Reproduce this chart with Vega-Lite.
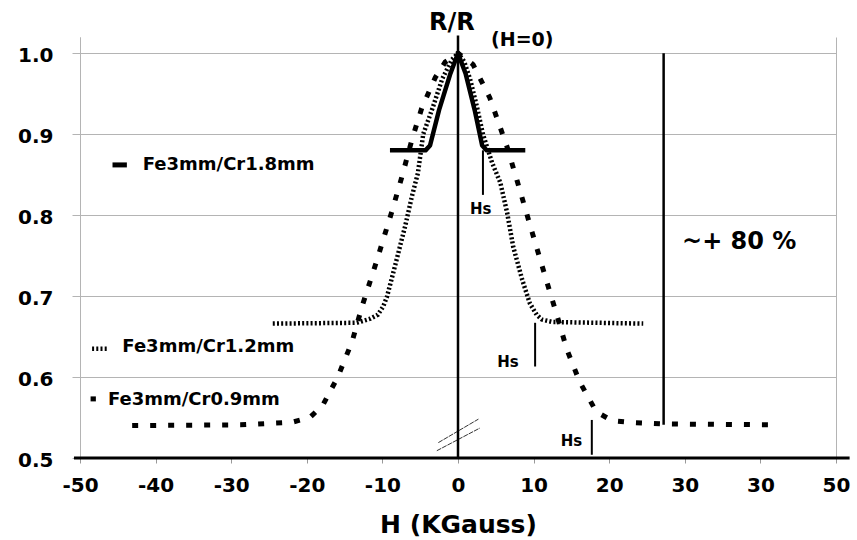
{
  "$schema": "https://vega.github.io/schema/vega-lite/v6.json",
  "autosize": "none",
  "width": 756,
  "height": 421,
  "padding": {"left": 80, "top": 37, "right": 21, "bottom": 82},
  "background": "white",
  "config": {"view": {"stroke": null}, "font": "DejaVu Sans"},
  "datasets": {
    "c18": [
      {"x": -9.0, "y": 0.88}, {"x": -4.3, "y": 0.88}, {"x": -3.7, "y": 0.886}, {"x": -2.5, "y": 0.93},
      {"x": -1.0, "y": 0.975}, {"x": 0, "y": 1.0}, {"x": 1.0, "y": 0.975}, {"x": 2.2, "y": 0.93},
      {"x": 3.2, "y": 0.886}, {"x": 3.8, "y": 0.88}, {"x": 8.9, "y": 0.88}
    ],
    "c12": [
      {"x": -24.5, "y": 0.666}, {"x": -13.4, "y": 0.667}, {"x": -11.6, "y": 0.672}, {"x": -10.6, "y": 0.677},
      {"x": -9.9, "y": 0.687}, {"x": -9.4, "y": 0.699}, {"x": -8.7, "y": 0.724}, {"x": -7.9, "y": 0.753},
      {"x": -7.0, "y": 0.786}, {"x": -6.1, "y": 0.823}, {"x": -5.3, "y": 0.852}, {"x": -4.6, "y": 0.9},
      {"x": -3.3, "y": 0.934}, {"x": -2.1, "y": 0.968}, {"x": -0.8, "y": 0.992}, {"x": 0, "y": 1.0},
      {"x": 0.8, "y": 0.99}, {"x": 1.6, "y": 0.968}, {"x": 2.5, "y": 0.934}, {"x": 3.3, "y": 0.9},
      {"x": 4.5, "y": 0.865}, {"x": 5.6, "y": 0.84}, {"x": 6.5, "y": 0.803}, {"x": 7.3, "y": 0.761},
      {"x": 8.5, "y": 0.72}, {"x": 9.5, "y": 0.691}, {"x": 10.4, "y": 0.677}, {"x": 11.1, "y": 0.671},
      {"x": 12.5, "y": 0.668}, {"x": 24.5, "y": 0.666}
    ],
    "c09": [
      {"x": -43.1, "y": 0.54}, {"x": -28.8, "y": 0.541}, {"x": -22.0, "y": 0.544}, {"x": -19.6, "y": 0.55},
      {"x": -17.9, "y": 0.565}, {"x": -15.9, "y": 0.6}, {"x": -14.0, "y": 0.644}, {"x": -12.7, "y": 0.687},
      {"x": -10.7, "y": 0.745}, {"x": -8.7, "y": 0.806}, {"x": -7.4, "y": 0.848}, {"x": -6.1, "y": 0.893},
      {"x": -4.8, "y": 0.932}, {"x": -3.0, "y": 0.97}, {"x": -1.7, "y": 0.989}, {"x": 0, "y": 1.0},
      {"x": 2.0, "y": 0.986}, {"x": 4.2, "y": 0.945}, {"x": 6.5, "y": 0.884}, {"x": 7.8, "y": 0.843},
      {"x": 9.8, "y": 0.779}, {"x": 11.8, "y": 0.716}, {"x": 13.1, "y": 0.676}, {"x": 14.4, "y": 0.634},
      {"x": 16.1, "y": 0.594}, {"x": 18.3, "y": 0.557}, {"x": 20.4, "y": 0.546}, {"x": 22.8, "y": 0.544},
      {"x": 27.4, "y": 0.542}, {"x": 42.4, "y": 0.541}
    ],
    "leg18": [{"x": -45.7, "y": 0.862}, {"x": -43.8, "y": 0.862}],
    "leg12": [{"x": -48.4, "y": 0.635}, {"x": -46.3, "y": 0.635}],
    "leg09": [{"x": -48.6, "y": 0.573}, {"x": -47.9, "y": 0.573}],
    "breaks": [
      {"k": "a", "x": -2.6, "y": 0.519}, {"k": "a", "x": 2.7, "y": 0.548},
      {"k": "b", "x": -2.8, "y": 0.509}, {"k": "b", "x": 2.9, "y": 0.537}
    ],
    "thick": [
      {"x": 0, "y": 0.5, "y2": 1.022},
      {"x": 27.2, "y": 0.541, "y2": 1.0}
    ],
    "hs": [
      {"x": 3.3, "y": 0.825, "y2": 0.88},
      {"x": 10.2, "y": 0.613, "y2": 0.667},
      {"x": 17.7, "y": 0.504, "y2": 0.547}
    ],
    "hslabels": [
      {"t": "Hs", "x": 3.0, "y": 0.807},
      {"t": "Hs", "x": 6.6, "y": 0.619},
      {"t": "Hs", "x": 15.0, "y": 0.521}
    ],
    "legtext": [
      {"t": "Fe3mm/Cr1.8mm", "x": -41.7, "y": 0.862},
      {"t": "Fe3mm/Cr1.2mm", "x": -44.4, "y": 0.637},
      {"t": "Fe3mm/Cr0.9mm", "x": -46.3, "y": 0.572}
    ],
    "baseline": [{"x": -50.8, "x2": 51.8, "y": 0.5}]
  },
  "layer": [
    {
      "data": {"name": "baseline"},
      "mark": {"type": "rule", "color": "black", "strokeWidth": 3, "clip": false},
      "encoding": {
        "x": {"field": "x", "type": "quantitative", "scale": {"domain": [-50, 50], "nice": false, "zero": false},
          "axis": {
            "values": [-50, -40, -30, -20, -10, 0, 10, 20, 30, 40, 50],
            "labelExpr": "datum.value == 40 ? '30' : '' + datum.value",
            "domain": false,
            "grid": true,
            "gridColor": "#b4b4b4",
            "gridOpacity": {"condition": {"test": "abs(datum.value) == 50", "value": 1}, "value": 0},
            "tickColor": "#999999",
            "tickSize": 5,
            "labelFont": "DejaVu Sans",
            "labelFontWeight": "bold",
            "labelFontSize": 20,
            "labelColor": "black",
            "labelPadding": 12,
            "labelFlush": false,
            "title": "H (KGauss)",
            "titleFont": "DejaVu Sans",
            "titleFontWeight": "bold",
            "titleFontSize": 25,
            "titleColor": "black",
            "titlePadding": 17
          }},
        "x2": {"field": "x2"},
        "y": {"field": "y", "type": "quantitative", "scale": {"domain": [0.5, 1.02], "nice": false, "zero": false},
          "axis": {
            "values": [0.5, 0.6, 0.7, 0.8, 0.9, 1.0],
            "format": ".1f",
            "domainColor": "#b4b4b4",
            "gridColor": "#b4b4b4",
            "tickColor": "#b4b4b4",
            "tickSize": 8,
            "labelFont": "DejaVu Sans",
            "labelFontWeight": "bold",
            "labelFontSize": 20,
            "labelColor": "black",
            "labelPadding": 19,
            "labelBaseline": "middle",
            "labelOffset": 2,
            "title": null
          }}
      }
    },
    {
      "data": {"name": "breaks"},
      "mark": {"type": "line", "color": "#333333", "strokeWidth": 1, "strokeDash": [5, 1]},
      "encoding": {
        "x": {"field": "x", "type": "quantitative"},
        "y": {"field": "y", "type": "quantitative"},
        "detail": {"field": "k"}
      }
    },
    {
      "data": {"name": "c09"},
      "mark": {"type": "line", "color": "black", "strokeWidth": 5, "strokeDash": [6, 12]},
      "encoding": {"x": {"field": "x", "type": "quantitative"}, "y": {"field": "y", "type": "quantitative"}}
    },
    {
      "data": {"name": "c12"},
      "mark": {"type": "line", "color": "black", "strokeWidth": 4.5, "strokeDash": [2, 2.2]},
      "encoding": {"x": {"field": "x", "type": "quantitative"}, "y": {"field": "y", "type": "quantitative"}}
    },
    {
      "data": {"name": "c18"},
      "mark": {"type": "line", "color": "black", "strokeWidth": 4.5, "strokeJoin": "round"},
      "encoding": {"x": {"field": "x", "type": "quantitative"}, "y": {"field": "y", "type": "quantitative"}}
    },
    {
      "data": {"name": "leg18"},
      "mark": {"type": "line", "color": "black", "strokeWidth": 5},
      "encoding": {"x": {"field": "x", "type": "quantitative"}, "y": {"field": "y", "type": "quantitative"}}
    },
    {
      "data": {"name": "leg12"},
      "mark": {"type": "line", "color": "black", "strokeWidth": 4.5, "strokeDash": [2, 2.2]},
      "encoding": {"x": {"field": "x", "type": "quantitative"}, "y": {"field": "y", "type": "quantitative"}}
    },
    {
      "data": {"name": "leg09"},
      "mark": {"type": "line", "color": "black", "strokeWidth": 5},
      "encoding": {"x": {"field": "x", "type": "quantitative"}, "y": {"field": "y", "type": "quantitative"}}
    },
    {
      "data": {"name": "thick"},
      "mark": {"type": "rule", "color": "black", "strokeWidth": 2.5, "clip": false},
      "encoding": {"x": {"field": "x", "type": "quantitative"}, "y": {"field": "y", "type": "quantitative"}, "y2": {"field": "y2"}}
    },
    {
      "data": {"name": "hs"},
      "mark": {"type": "rule", "color": "black", "strokeWidth": 2},
      "encoding": {"x": {"field": "x", "type": "quantitative"}, "y": {"field": "y", "type": "quantitative"}, "y2": {"field": "y2"}}
    },
    {
      "data": {"name": "hslabels"},
      "mark": {"type": "text", "font": "DejaVu Sans", "fontWeight": "bold", "fontSize": 15, "align": "center", "baseline": "middle", "color": "black"},
      "encoding": {"x": {"field": "x", "type": "quantitative"}, "y": {"field": "y", "type": "quantitative"}, "text": {"field": "t"}}
    },
    {
      "data": {"name": "legtext"},
      "mark": {"type": "text", "font": "DejaVu Sans", "fontWeight": "bold", "fontSize": 18, "align": "left", "baseline": "middle", "color": "black"},
      "encoding": {"x": {"field": "x", "type": "quantitative"}, "y": {"field": "y", "type": "quantitative"}, "text": {"field": "t"}}
    },
    {
      "data": {"values": [{"t": "~+ 80 %", "x": 37.2, "y": 0.767}]},
      "mark": {"type": "text", "font": "DejaVu Sans", "fontWeight": "bold", "fontSize": 24, "align": "center", "baseline": "middle", "color": "black"},
      "encoding": {"x": {"field": "x", "type": "quantitative"}, "y": {"field": "y", "type": "quantitative"}, "text": {"field": "t"}}
    },
    {
      "data": {"values": [{"t": "R/R", "x": -0.8, "y": 1.037}]},
      "mark": {"type": "text", "font": "DejaVu Sans", "fontWeight": "bold", "fontSize": 24, "align": "center", "baseline": "middle", "color": "black"},
      "encoding": {"x": {"field": "x", "type": "quantitative"}, "y": {"field": "y", "type": "quantitative"}, "text": {"field": "t"}}
    },
    {
      "data": {"values": [{"t": "(H=0)", "x": 8.5, "y": 1.016}]},
      "mark": {"type": "text", "font": "DejaVu Sans", "fontWeight": "bold", "fontSize": 19, "align": "center", "baseline": "middle", "color": "black"},
      "encoding": {"x": {"field": "x", "type": "quantitative"}, "y": {"field": "y", "type": "quantitative"}, "text": {"field": "t"}}
    }
  ]
}
